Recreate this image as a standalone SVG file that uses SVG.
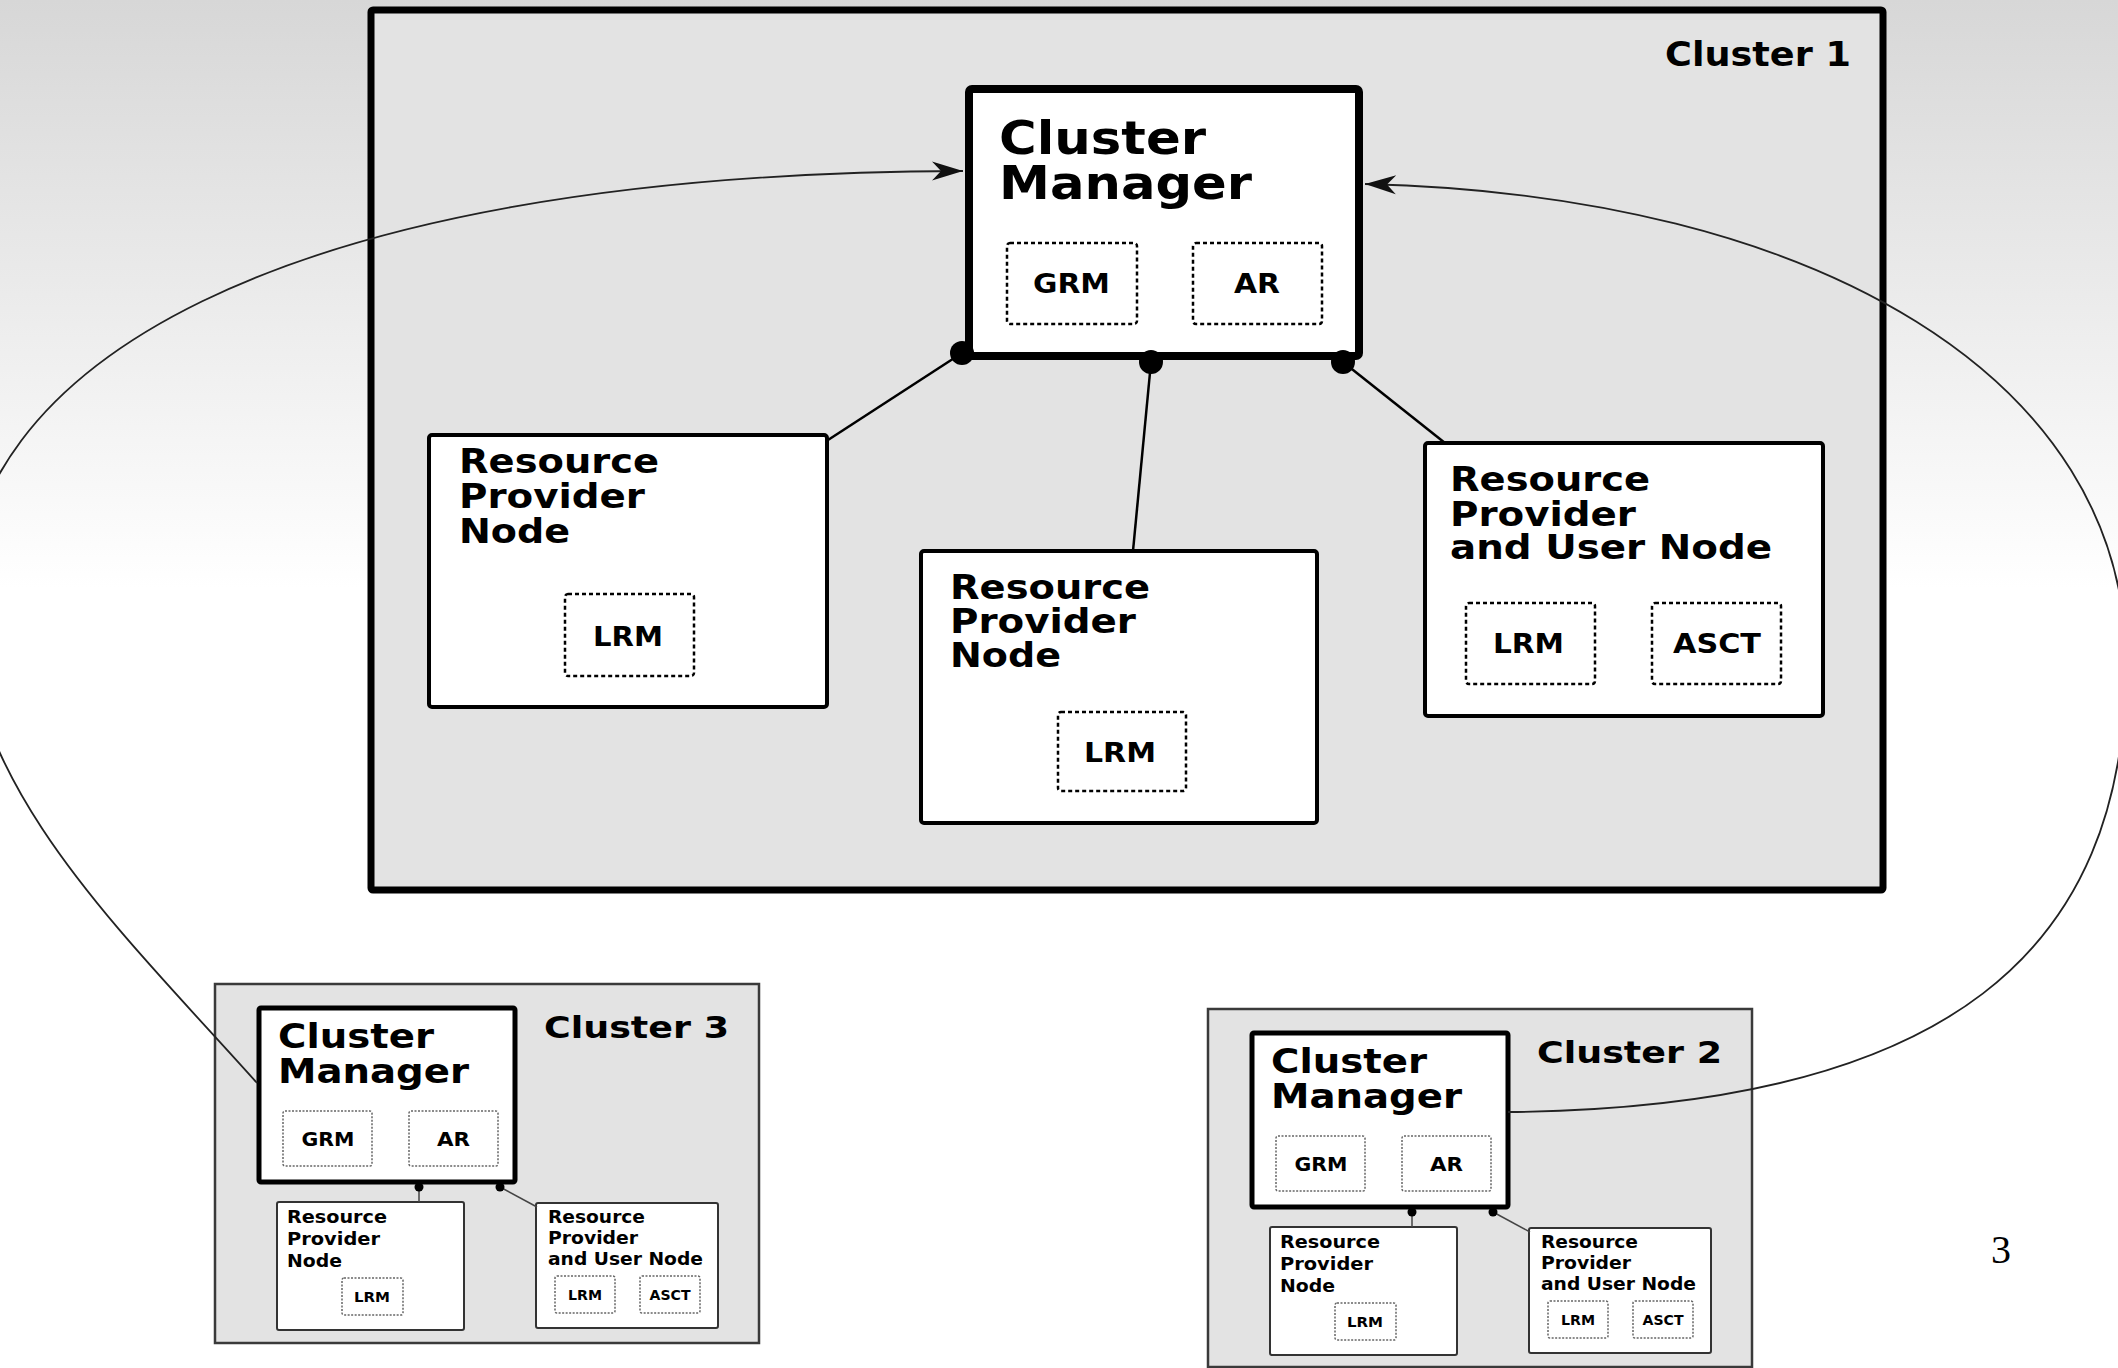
<svg xmlns="http://www.w3.org/2000/svg" width="2118" height="1368" viewBox="0 0 2118 1368">
  <defs>
    <linearGradient id="bgGrad" x1="0" y1="0" x2="0" y2="1368" gradientUnits="userSpaceOnUse">
      <stop offset="0" stop-color="#d7d7d7"/>
      <stop offset="0.43" stop-color="#ffffff"/>
      <stop offset="1" stop-color="#ffffff"/>
    </linearGradient>
    <marker id="arrow" markerUnits="userSpaceOnUse" markerWidth="36" markerHeight="24" viewBox="-33 -12 36 24" refX="0" refY="0" orient="auto">
      <path d="M0,0 L-31,-9.5 L-22,0 L-31,9.5 Z" fill="#111"/>
    </marker>
  </defs>
  <style>
    text { font-family: "DejaVu Sans", Verdana, sans-serif; font-weight: bold; fill: #000; }
    .page { font-family: "Liberation Serif", "Times New Roman", serif; font-weight: normal; font-size: 40px; }
    .cluster { fill: #e3e3e3; stroke: #000; stroke-width: 7; }
    .cluster-s { fill: #e3e3e3; stroke: #3a3a3a; stroke-width: 2.5; }
    .mgr { fill: #fff; stroke: #000; stroke-width: 8; }
    .mgr-s { fill: #fff; stroke: #000; stroke-width: 5; }
    .node { fill: #fff; stroke: #000; stroke-width: 4; }
    .node-s { fill: #fff; stroke: #333; stroke-width: 2; }
    .comp { fill: none; stroke: #000; stroke-width: 2.5; stroke-dasharray: 4 3; }
    .comp-s { fill: none; stroke: #666; stroke-width: 1.5; stroke-dasharray: 2 1.5; }
    .link { stroke: #000; stroke-width: 2.5; fill: none; }
    .link-s { stroke: #444; stroke-width: 1.5; fill: none; }
    .curve { stroke: #222; stroke-width: 1.8; fill: none; marker-end: url(#arrow); }
    .dot { fill: #000; }
    .f47 { font-size: 47px; }
    .f34 { font-size: 34px; }
    .f33 { font-size: 33px; }
    .f30 { font-size: 30px; }
    .f26 { font-size: 26px; }
    .f19 { font-size: 19px; }
    .f18 { font-size: 18px; }
    .f14 { font-size: 14px; }
  </style>

  <!-- slide background -->
  <rect x="0" y="0" width="2118" height="1368" fill="url(#bgGrad)"/>

  <!-- Cluster 1 -->
  <g id="cluster1">
    <rect class="cluster" x="371" y="10" width="1512" height="880" rx="2"/>
    <text class="f34" x="1665" y="66" textLength="186" lengthAdjust="spacingAndGlyphs">Cluster 1</text>
  </g>

  <g id="c1-manager">
    <rect class="mgr" x="969" y="89" width="390" height="267" rx="3"/>
    <text class="f47" x="999" y="154" textLength="207" lengthAdjust="spacingAndGlyphs">Cluster</text>
    <text class="f47" x="999" y="199" textLength="253" lengthAdjust="spacingAndGlyphs">Manager</text>
    <rect class="comp" x="1007" y="243" width="130" height="81" rx="3"/>
    <text class="f26" x="1033" y="293" textLength="77" lengthAdjust="spacingAndGlyphs">GRM</text>
    <rect class="comp" x="1193" y="243" width="129" height="81" rx="3"/>
    <text class="f26" x="1234" y="293" textLength="46" lengthAdjust="spacingAndGlyphs">AR</text>
  </g>

  <g id="c1-provider-a">
    <rect class="node" x="429" y="435" width="398" height="272" rx="3"/>
    <text class="f33" x="459" y="473" textLength="200" lengthAdjust="spacingAndGlyphs">Resource</text>
    <text class="f33" x="459" y="508" textLength="186" lengthAdjust="spacingAndGlyphs">Provider</text>
    <text class="f33" x="459" y="543" textLength="111" lengthAdjust="spacingAndGlyphs">Node</text>
    <rect class="comp" x="565" y="594" width="129" height="82" rx="3"/>
    <text class="f26" x="593" y="646" textLength="70" lengthAdjust="spacingAndGlyphs">LRM</text>
  </g>

  <g id="c1-provider-b">
    <rect class="node" x="921" y="551" width="396" height="272" rx="3"/>
    <text class="f33" x="950" y="599" textLength="200" lengthAdjust="spacingAndGlyphs">Resource</text>
    <text class="f33" x="950" y="633" textLength="186" lengthAdjust="spacingAndGlyphs">Provider</text>
    <text class="f33" x="950" y="667" textLength="111" lengthAdjust="spacingAndGlyphs">Node</text>
    <rect class="comp" x="1058" y="712" width="128" height="79" rx="3"/>
    <text class="f26" x="1084" y="762" textLength="72" lengthAdjust="spacingAndGlyphs">LRM</text>
  </g>

  <g id="c1-provider-user">
    <rect class="node" x="1425" y="443" width="398" height="273" rx="3"/>
    <text class="f33" x="1450" y="491" textLength="200" lengthAdjust="spacingAndGlyphs">Resource</text>
    <text class="f33" x="1450" y="526" textLength="186" lengthAdjust="spacingAndGlyphs">Provider</text>
    <text class="f33" x="1450" y="559" textLength="322" lengthAdjust="spacingAndGlyphs">and User Node</text>
    <rect class="comp" x="1466" y="603" width="129" height="81" rx="3"/>
    <text class="f26" x="1493" y="653" textLength="71" lengthAdjust="spacingAndGlyphs">LRM</text>
    <rect class="comp" x="1652" y="603" width="129" height="81" rx="3"/>
    <text class="f26" x="1673" y="653" textLength="88" lengthAdjust="spacingAndGlyphs">ASCT</text>
  </g>

  <!-- Cluster 3 (small) -->
  <g id="cluster3">
    <rect class="cluster-s" x="215" y="984" width="544" height="359"/>
    <text class="f30" x="544" y="1038" textLength="185" lengthAdjust="spacingAndGlyphs">Cluster 3</text>
  </g>
  <g id="c3-manager">
    <rect class="mgr-s" x="259" y="1008" width="256" height="174" rx="2"/>
    <text class="f33" x="278" y="1048" textLength="156" lengthAdjust="spacingAndGlyphs">Cluster</text>
    <text class="f33" x="278" y="1083" textLength="191" lengthAdjust="spacingAndGlyphs">Manager</text>
    <rect class="comp-s" x="283" y="1111" width="89" height="55" rx="2"/>
    <text class="f19" x="301.5" y="1146" textLength="53" lengthAdjust="spacingAndGlyphs">GRM</text>
    <rect class="comp-s" x="409" y="1111" width="89" height="55" rx="2"/>
    <text class="f19" x="437" y="1146" textLength="33" lengthAdjust="spacingAndGlyphs">AR</text>
  </g>
  <g id="c3-provider">
    <rect class="node-s" x="277" y="1202" width="187" height="128" rx="2"/>
    <text class="f18" x="287" y="1223" textLength="100" lengthAdjust="spacingAndGlyphs">Resource</text>
    <text class="f18" x="287" y="1245" textLength="93" lengthAdjust="spacingAndGlyphs">Provider</text>
    <text class="f18" x="287" y="1267" textLength="55" lengthAdjust="spacingAndGlyphs">Node</text>
    <rect class="comp-s" x="342" y="1278" width="61" height="37" rx="2"/>
    <text class="f14" x="354" y="1302" textLength="36" lengthAdjust="spacingAndGlyphs">LRM</text>
  </g>
  <g id="c3-provider-user">
    <rect class="node-s" x="536" y="1203" width="182" height="125" rx="2"/>
    <text class="f18" x="548" y="1223" textLength="97" lengthAdjust="spacingAndGlyphs">Resource</text>
    <text class="f18" x="548" y="1244" textLength="90" lengthAdjust="spacingAndGlyphs">Provider</text>
    <text class="f18" x="548" y="1265" textLength="155" lengthAdjust="spacingAndGlyphs">and User Node</text>
    <rect class="comp-s" x="555" y="1276" width="60" height="37" rx="2"/>
    <text class="f14" x="568" y="1300" textLength="34" lengthAdjust="spacingAndGlyphs">LRM</text>
    <rect class="comp-s" x="640" y="1276" width="60" height="37" rx="2"/>
    <text class="f14" x="649.5" y="1300" textLength="41" lengthAdjust="spacingAndGlyphs">ASCT</text>
  </g>

  <!-- Cluster 2 (small), same layout as cluster 3, shifted -->
  <g transform="translate(993,25)">
    <g id="cluster2">
      <rect class="cluster-s" x="215" y="984" width="544" height="358"/>
      <text class="f30" x="544" y="1038" textLength="185" lengthAdjust="spacingAndGlyphs">Cluster 2</text>
    </g>
    <g id="c2-manager">
      <rect class="mgr-s" x="259" y="1008" width="256" height="174" rx="2"/>
      <text class="f33" x="278" y="1048" textLength="156" lengthAdjust="spacingAndGlyphs">Cluster</text>
      <text class="f33" x="278" y="1083" textLength="191" lengthAdjust="spacingAndGlyphs">Manager</text>
      <rect class="comp-s" x="283" y="1111" width="89" height="55" rx="2"/>
      <text class="f19" x="301.5" y="1146" textLength="53" lengthAdjust="spacingAndGlyphs">GRM</text>
      <rect class="comp-s" x="409" y="1111" width="89" height="55" rx="2"/>
      <text class="f19" x="437" y="1146" textLength="33" lengthAdjust="spacingAndGlyphs">AR</text>
    </g>
    <g id="c2-provider">
      <rect class="node-s" x="277" y="1202" width="187" height="128" rx="2"/>
      <text class="f18" x="287" y="1223" textLength="100" lengthAdjust="spacingAndGlyphs">Resource</text>
      <text class="f18" x="287" y="1245" textLength="93" lengthAdjust="spacingAndGlyphs">Provider</text>
      <text class="f18" x="287" y="1267" textLength="55" lengthAdjust="spacingAndGlyphs">Node</text>
      <rect class="comp-s" x="342" y="1278" width="61" height="37" rx="2"/>
      <text class="f14" x="354" y="1302" textLength="36" lengthAdjust="spacingAndGlyphs">LRM</text>
    </g>
    <g id="c2-provider-user">
      <rect class="node-s" x="536" y="1203" width="182" height="125" rx="2"/>
      <text class="f18" x="548" y="1223" textLength="97" lengthAdjust="spacingAndGlyphs">Resource</text>
      <text class="f18" x="548" y="1244" textLength="90" lengthAdjust="spacingAndGlyphs">Provider</text>
      <text class="f18" x="548" y="1265" textLength="155" lengthAdjust="spacingAndGlyphs">and User Node</text>
      <rect class="comp-s" x="555" y="1276" width="60" height="37" rx="2"/>
      <text class="f14" x="568" y="1300" textLength="34" lengthAdjust="spacingAndGlyphs">LRM</text>
      <rect class="comp-s" x="640" y="1276" width="60" height="37" rx="2"/>
      <text class="f14" x="649.5" y="1300" textLength="41" lengthAdjust="spacingAndGlyphs">ASCT</text>
    </g>
  </g>

  <!-- connectors -->
  <g id="connectors">
    <!-- manager to nodes, cluster 1 -->
    <line class="link" x1="962" y1="353" x2="828" y2="440"/>
    <line class="link" x1="1151" y1="362" x2="1133" y2="551"/>
    <line class="link" x1="1343" y1="362" x2="1445" y2="443"/>
    <circle class="dot" cx="962" cy="353" r="12"/>
    <circle class="dot" cx="1151" cy="362" r="12"/>
    <circle class="dot" cx="1343" cy="362" r="12"/>
    <!-- manager to nodes, cluster 3 -->
    <line class="link-s" x1="419" y1="1187" x2="419" y2="1202"/>
    <line class="link-s" x1="500" y1="1187" x2="537" y2="1207"/>
    <circle class="dot" cx="419" cy="1187" r="4.5"/>
    <circle class="dot" cx="500" cy="1187" r="4.5"/>
    <!-- manager to nodes, cluster 2 -->
    <line class="link-s" x1="1412" y1="1212" x2="1412" y2="1227"/>
    <line class="link-s" x1="1493" y1="1212" x2="1530" y2="1232"/>
    <circle class="dot" cx="1412" cy="1212" r="4.5"/>
    <circle class="dot" cx="1493" cy="1212" r="4.5"/>
    <!-- inter-cluster links to the cluster 1 manager -->
    <path class="curve" d="M257,1083 C120,930 -30,790 -35,610 C-40,370 270,173 963,171"/>
    <path class="curve" d="M1508,1112 C1950,1108 2126,950 2126,663 C2126,380 1820,195 1365,184"/>
  </g>

  <text class="page" x="1991" y="1263">3</text>
</svg>
